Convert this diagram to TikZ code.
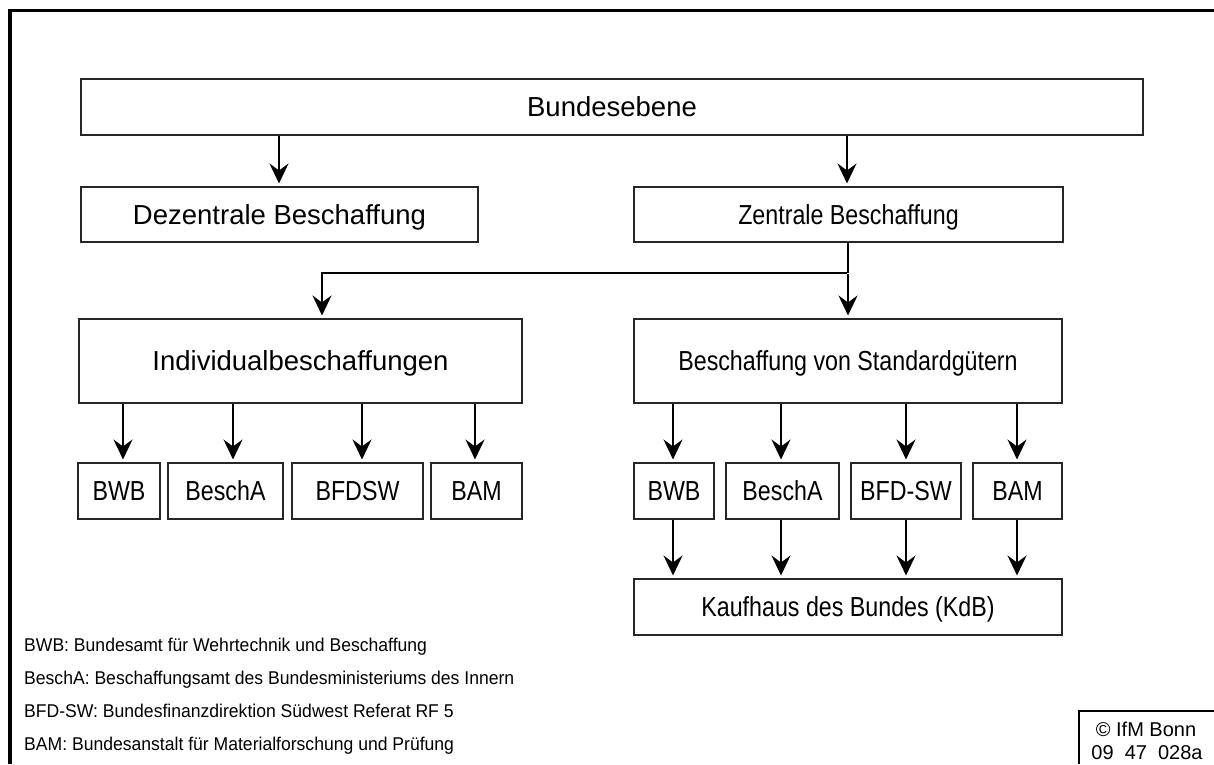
\documentclass[tikz,border=0pt]{standalone}
\usepackage{fontspec}
\setmainfont{Liberation Sans}
\newfontfamily\wfont{Liberation Sans}
\newfontfamily\nfont{Liberation Sans}[FakeStretch=0.845]
\newfontfamily\lfont{Liberation Sans}[FakeStretch=0.95]
\usetikzlibrary{arrows.meta,calc}
\begin{document}
\begin{tikzpicture}[x=1pt,y=-1pt,
 box/.style={draw=black!85, line width=1.8pt, outer sep=0pt, inner sep=0pt, minimum height=56pt, align=center, text height=19.7pt, text depth=0pt},
 wbox/.style={box, font=\wfont\fontsize{27.5}{31}\selectfont},
 nbox/.style={box, font=\nfont\fontsize{27.5}{31}\selectfont},
 arr/.style={line width=2pt, -{Stealth[length=20pt,width=19pt,inset=7pt]}, shorten >=3.5pt, shorten <=1pt},
 legend/.style={anchor=base west, inner sep=0pt, font=\lfont\fontsize{18.5}{21}\selectfont},
 copyr/.style={anchor=base, inner sep=0pt, font=\fontsize{20}{23}\selectfont},
]
\useasboundingbox (0,0) rectangle (1214,764);
% outer frame
\draw[line width=3.5pt] (1214,10.5) -- (10,10.5) -- (10,764);

% main boxes
\node[wbox, minimum width=1062pt, minimum height=56pt] (bund) at (612,107) {Bundesebene};
\node[wbox, minimum width=397pt, minimum height=55pt] (dez) at (279.5,214.5) {Dezentrale Beschaffung};
\node[nbox, minimum width=429pt, minimum height=55pt] (zen) at (848.5,214.5) {Zentrale Beschaffung};
\node[wbox, minimum width=443pt, minimum height=84pt] (ind) at (300.5,361) {Individualbeschaffungen};
\node[nbox, minimum width=428pt, minimum height=84pt] (std) at (848,361) {Beschaffung von Standardgütern};

% small boxes left
\node[nbox, minimum width=82pt] (bwbL) at (119,491) {BWB};
\node[nbox, minimum width=115pt] (beschL) at (225.5,491) {BeschA};
\node[nbox, minimum width=131pt] (bfdL) at (357.5,491) {BFDSW};
\node[nbox, minimum width=91pt] (bamL) at (476.5,491) {BAM};

% small boxes right
\node[nbox, minimum width=80pt] (bwbR) at (674,491) {BWB};
\node[nbox, minimum width=113pt] (beschR) at (782.5,491) {BeschA};
\node[nbox, minimum width=110pt] (bfdR) at (906,491) {BFD-SW};
\node[nbox, minimum width=89pt] (bamR) at (1017.5,491) {BAM};

\node[nbox, minimum width=428pt, minimum height=56pt] (kdb) at (848,607) {Kaufhaus des Bundes (KdB)};

% connectors
\draw[arr] ($(bund.south -| dez.north)+(-0.5,0)$) -- ($(dez.north)+(-0.5,0)$);
\draw[arr] ($(bund.south -| zen.north)+(-1.5,0)$) -- ($(zen.north)+(-1.5,0)$);
\coordinate (j) at (848,273);
\draw[line width=2pt] (zen.south -| j) -- (j);
\draw[arr] (j) -- (std.north -| j);
\draw[arr] (j) -| ($(ind.north)+(21.5,0)$);

\draw[arr] ($(ind.south -| bwbL.north)+(4,0)$) -- ($(bwbL.north)+(4,0)$);
\draw[arr] ($(ind.south -| beschL.north)+(7.5,0)$) -- ($(beschL.north)+(7.5,0)$);
\draw[arr] ($(ind.south -| bfdL.north)+(4.5,0)$) -- ($(bfdL.north)+(4.5,0)$);
\draw[arr] ($(ind.south -| bamL.north)+(-1.5,0)$) -- ($(bamL.north)+(-1.5,0)$);

\draw[arr] ($(std.south -| bwbR.north)+(-1,0)$) -- ($(bwbR.north)+(-1,0)$);
\draw[arr] ($(std.south -| beschR.north)+(-1.5,0)$) -- ($(beschR.north)+(-1.5,0)$);
\draw[arr] (std.south -| bfdR.north) -- (bfdR.north);
\draw[arr] ($(std.south -| bamR.north)+(-0.5,0)$) -- ($(bamR.north)+(-0.5,0)$);

\draw[arr] ($(bwbR.south)+(-1,0)$) -- ($(kdb.north -| bwbR.south)+(-1,0)$);
\draw[arr] ($(beschR.south)+(-1.5,0)$) -- ($(kdb.north -| beschR.south)+(-1.5,0)$);
\draw[arr] (bfdR.south) -- (kdb.north -| bfdR.south);
\draw[arr] ($(bamR.south)+(-0.5,0)$) -- ($(kdb.north -| bamR.south)+(-0.5,0)$);

% legend
\node[legend] (l1) at (24,651) {BWB: Bundesamt für Wehrtechnik und Beschaffung};
\node[legend] (l2) at (24,684) {BeschA: Beschaffungsamt des Bundesministeriums des Innern};
\node[legend] (l3) at (24,717) {BFD-SW: Bundesfinanzdirektion Südwest Referat RF 5};
\node[legend] (l4) at (24,750) {BAM: Bundesanstalt für Materialforschung und Prüfung};

% copyright box
\draw[line width=1.5pt] (1214,711) -- (1079,711) -- (1079,764);
\node[copyr] (c1) at (1146,736) {© IfM Bonn};
\node[copyr] (c2) at (1147,759) {09~~47~~028a};
\end{tikzpicture}
\end{document}
